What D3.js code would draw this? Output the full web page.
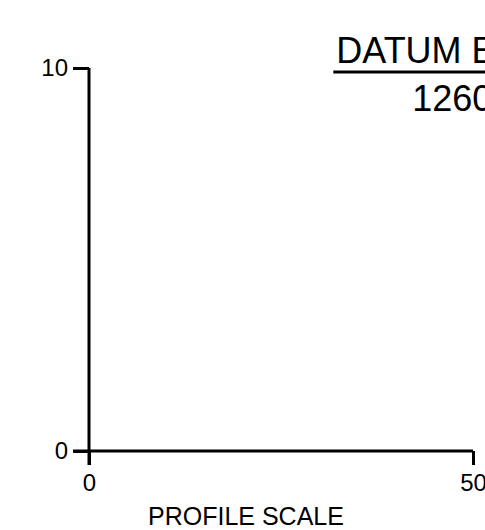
<!DOCTYPE html>
<html lang="en">
<head>
    <meta charset="UTF-8">
    <title>Profile Scale</title>
    <style>
        body { margin: 0; background: #fff; }
        .chart text { font-family: Arial, "Liberation Sans", sans-serif; fill: #000; }
        .axis path, .axis line { fill: none; stroke: #000; stroke-width: 3; }
    </style>
</head>
<body>
    <svg class="chart"></svg>
    <script src="https://d3js.org/d3.v7.min.js"></script>
    <script>
        // chart values
        const xDomain = [0, 50];
        const yDomain = [0, 10];
        const xTicks = [0, 50];
        const yTicks = [0, 10];
        const titleLines = ["DATUM ELEV.", "1260.00"];
        const xLabel = "PROFILE SCALE";

        let margin = { top: 68, right: 12, bottom: 79, left: 89 },
            width = 485 - margin.left - margin.right,
            height = 530 - margin.top - margin.bottom;

        let x = d3.scaleLinear().domain(xDomain).range([0, width]);
        let y = d3.scaleLinear().domain(yDomain).range([height, 0]);

        let svg = d3.select(".chart")
            .attr("width", 485)
            .attr("height", 530);

        let chart = svg.append("g")
            .attr("transform", `translate(${margin.left},${margin.top})`);

        // x axis, ticks point down
        let xAxis = d3.axisBottom(x)
            .tickValues(xTicks)
            .tickSize(14)
            .tickSizeOuter(0)
            .tickPadding(9);

        let gx = chart.append("g")
            .attr("class", "axis axis--x")
            .attr("transform", `translate(0,${height})`)
            .call(xAxis);
        gx.select(".domain").attr("d", `M${-16},0H${width}`);
        gx.selectAll("text").style("font-size", "24px");

        // y axis
        let yAxis = d3.axisLeft(y)
            .tickValues(yTicks)
            .tickSize(16)
            .tickSizeOuter(0)
            .tickPadding(5);

        let gy = chart.append("g")
            .attr("class", "axis axis--y")
            .call(yAxis);
        gy.select(".domain").attr("d", `M0,${y(yDomain[1])}V${height + 14}`);
        gy.selectAll("text").style("font-size", "24px");

        // x label
        chart.append("text")
            .attr("x", 59)
            .attr("y", height + 74)
            .style("font-size", "25px")
            .text(xLabel);

        // datum block in the upper right
        let datum = chart.append("g")
            .attr("transform", `translate(${x(32.2)},0)`);

        datum.append("text")
            .attr("x", 0)
            .attr("y", -5)
            .style("font-size", "36px")
            .text(titleLines[0]);

        datum.append("line")
            .attr("x1", -3)
            .attr("x2", 200)
            .attr("y1", 4)
            .attr("y2", 4)
            .attr("stroke", "#000")
            .attr("stroke-width", 3);

        datum.append("text")
            .attr("x", 76)
            .attr("y", 43)
            .style("font-size", "36px")
            .text(titleLines[1]);
    </script>
</body>
</html>
